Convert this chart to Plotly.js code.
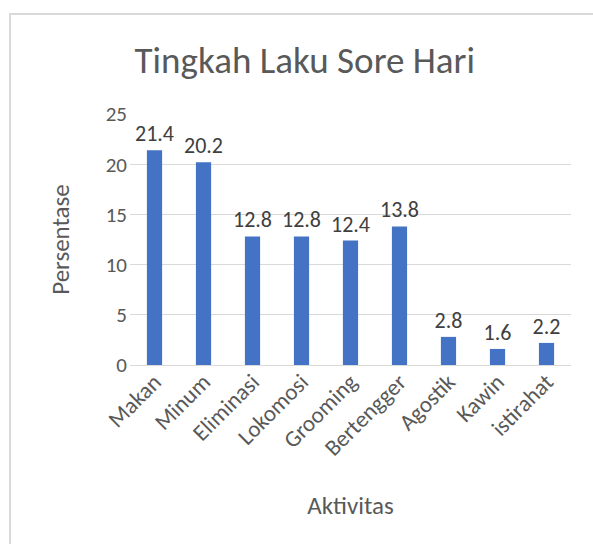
<!DOCTYPE html>
<html>
<head>
<meta charset="utf-8">
<script src="https://cdn.plot.ly/plotly-3.0.1.min.js"></script>
<style>
  body { margin: 0; background: #fff; }
  #wrap { position: relative; width: 593px; height: 544px; overflow: hidden; }
  #chart { position: absolute; left: 0; top: 0; width: 593px; height: 544px; }
  #frame { position: absolute; left: 9px; top: 13px; width: 620px; height: 600px;
           border-left: 2px solid #d9d9d9; border-top: 2px solid #d9d9d9; pointer-events: none; }
</style>
</head>
<body>
<div id="wrap">
  <div id="chart"></div>
  <div id="frame"></div>
</div>
<script>
const categories = ["Makan", "Minum", "Eliminasi", "Lokomosi", "Grooming", "Bertengger", "Agostik", "Kawin", "istirahat"];
const values = [21.4, 20.2, 12.8, 12.8, 12.4, 13.8, 2.8, 1.6, 2.2];
const labels = ["21.4", "20.2", "12.8", "12.8", "12.4", "13.8", "2.8", "1.6", "2.2"];

const font = "Calibri, Carlito, Lato, 'Open Sans', sans-serif";

const trace = {
  type: "bar",
  x: categories,
  y: values,
  text: labels,
  textposition: "outside",
  constraintext: "none",
  cliponaxis: false,
  textfont: { family: font, size: 22, color: "#404040" },
  marker: { color: "#4472C4" },
  hoverinfo: "none"
};

const layout = {
  width: 593,
  height: 544,
  margin: { l: 130, r: 22, t: 114, b: 179 },
  paper_bgcolor: "#ffffff",
  plot_bgcolor: "#ffffff",
  bargap: 0.69,
  showlegend: false,
  font: { family: font, color: "#595959" },
  title: {
    text: "Tingkah Laku Sore Hari",
    font: { family: font, size: 37, color: "#595959" },
    x: 0.514, xanchor: "center", xref: "container",
    y: 0.89, yanchor: "middle", yref: "container"
  },
  xaxis: {
    tickangle: -45,
    tickfont: { family: font, size: 23, color: "#595959" },
    showgrid: false,
    showline: false,
    ticks: "",
    ticklabelstandoff: -2,
    title: { text: "Aktivitas", font: { family: font, size: 25, color: "#595959" }, standoff: 36 }
  },
  yaxis: {
    range: [0, 25],
    dtick: 5,
    tickfont: { family: font, size: 21, color: "#595959" },
    showgrid: true,
    gridcolor: "#d9d9d9",
    gridwidth: 1,
    zeroline: true,
    zerolinecolor: "#d9d9d9",
    zerolinewidth: 1,
    showline: false,
    ticks: "",
    ticklabelstandoff: 2,
    title: { text: "Persentase", font: { family: font, size: 25, color: "#595959" }, standoff: 28 }
  }
};

Plotly.newPlot("chart", [trace], layout, { staticPlot: true, displayModeBar: false });
</script>
</body>
</html>
